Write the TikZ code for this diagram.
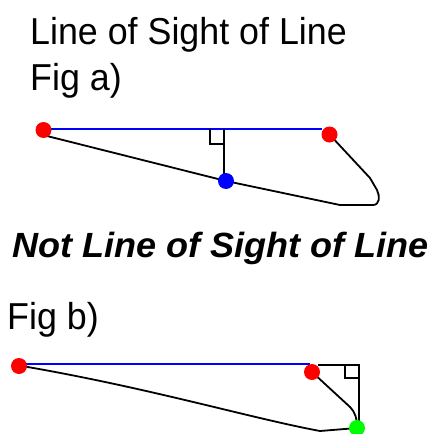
\documentclass[tikz,border=0pt]{standalone}
\usepackage{fontspec}
\setmainfont{Liberation Sans}
\begin{document}
\begin{tikzpicture}[x=1pt,y=-1pt,
  dotnode/.style={circle,inner sep=0pt,minimum size=16pt,draw=none},
  reddot/.style={dotnode,fill=red},
  bluedot/.style={dotnode,fill=blue},
  greendot/.style={dotnode,fill=green},
  losline/.style={blue,line width=2pt},
  edgeline/.style={black,line width=1.8pt,line join=round},
  perpline/.style={black,line width=1.5pt},
  lbl/.style={anchor=base west,inner sep=0pt},
  plain/.style={font=\fontsize{37.5}{37.5}\selectfont}]
\useasboundingbox (0,0) rectangle (437,434);
% texts
\node[lbl,plain] (t1) at (30,44) {\scalebox{0.955}[1]{Line of Sight of Line}};
\node[lbl,plain] (t2) at (30,90) {\scalebox{0.955}[1]{Fig a)}};
\node[lbl,font=\fontsize{35}{35}\selectfont\bfseries\itshape] (t3) at (12,257) {\scalebox{1.03}[1]{Not Line of Sight of Line}};
\node[lbl,plain] (t4) at (7,329) {\scalebox{0.955}[1]{Fig b)}};
% Fig a
\coordinate (a1) at (43.5,130);
\coordinate (a1s) at (43,135);
\coordinate (a2) at (329.5,134.5);
\coordinate (a3) at (226,181);
\coordinate (af) at (224,129);
\draw[losline] (43,129) -- (322,129);
\draw[perpline] (af) -- (224,178);
\draw[perpline] (210,129) -- (210,144) -- (224,144);
\draw[edgeline] (a1s) -- (a3) -- (340,205) -- (373,205)
  .. controls (380,205) and (380,196) .. (377,190) -- (370,178) -- (a2);
\node[reddot] (A1) at (a1) {};
\node[reddot] (A2) at (a2) {};
\node[bluedot] (A3) at (a3) {};
% Fig b
\coordinate (b1) at (19,366);
\coordinate (b1s) at (22,366);
\coordinate (b2) at (312,372);
\coordinate (b3) at (357,428);
\draw[losline] (19,364) -- (310,364);
\draw[perpline] (318,365) -- (359,365) -- (359,424);
\draw[perpline] (345,365) -- (345,378) -- (359,378);
\draw[edgeline] (b1s) .. controls (150,388) and (250,418) .. (320,431) -- (b3);
\draw[edgeline] (b2) -- (350,407) .. controls (355,412) and (357,418) .. (b3);
\node[reddot] (B1) at (b1) {};
\node[reddot] (B2) at (b2) {};
\node[greendot] (B3) at (b3) {};
\end{tikzpicture}
\end{document}
